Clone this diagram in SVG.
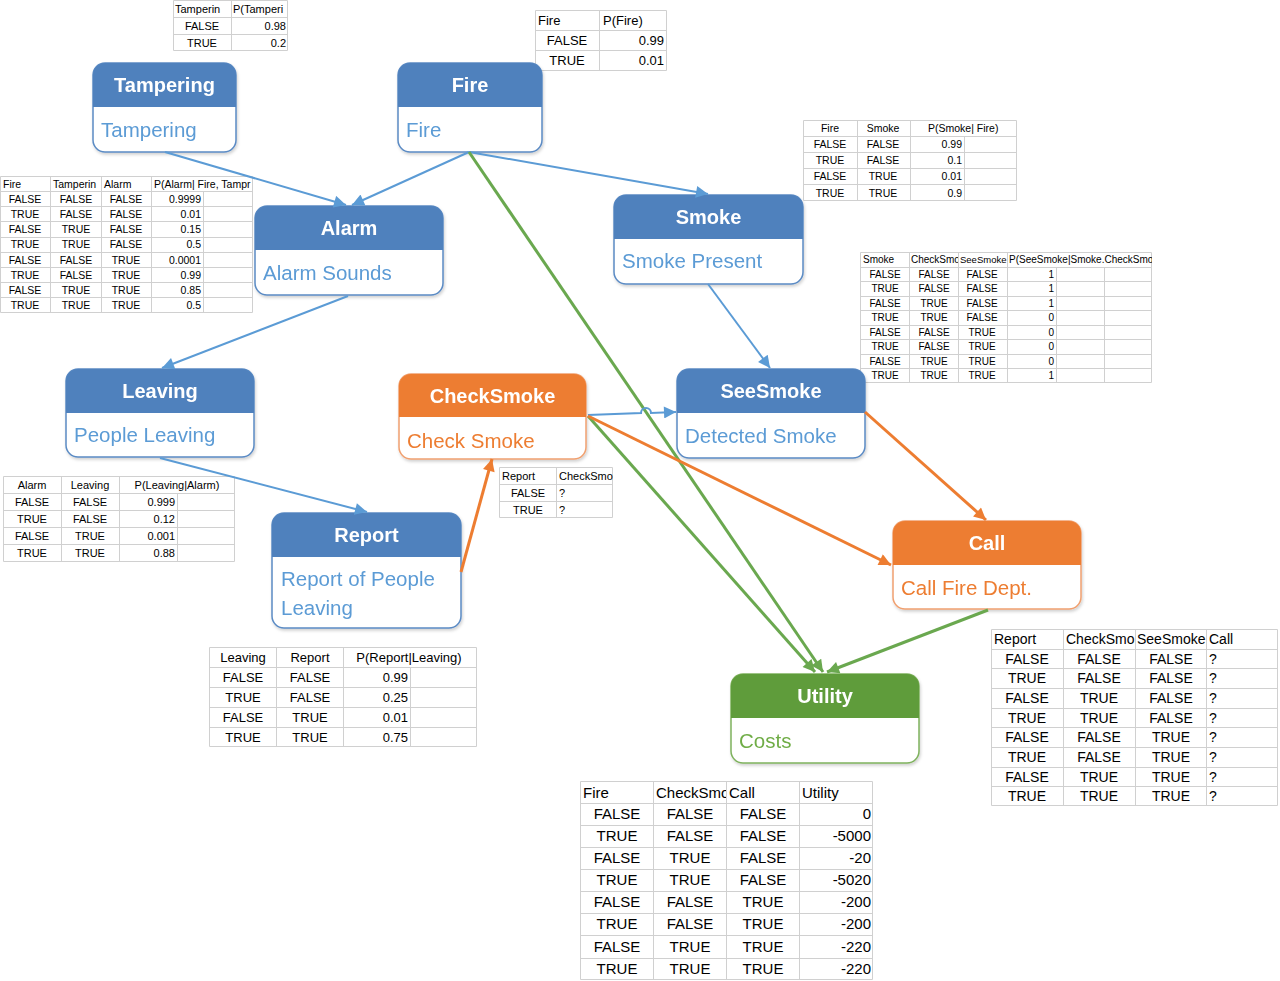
<svg xmlns="http://www.w3.org/2000/svg" width="1280" height="981" viewBox="0 0 1280 981">
<defs>
<style>
.t{font-family:"Liberation Sans",Arial,sans-serif;fill:#000}
.grid{fill:none;stroke:#d0d0d0;stroke-width:1}
.c{text-anchor:middle}
.r{text-anchor:end}
.title{font-family:"Liberation Sans",Arial,sans-serif;font-weight:bold;font-size:20px;fill:#fff;text-anchor:middle}
.sub{font-family:"Liberation Sans",Arial,sans-serif;font-size:20.5px}
.body{fill:#fff;stroke-width:1.5}
.blue .hd{fill:#4f81bd}.blue .body{stroke:#5b8bc4}.blue .sub{fill:#5b9bd5}
.orange .hd{fill:#ed7d31}.orange .body{stroke:#f0a070}.orange .sub{fill:#ed7d31}
.green .hd{fill:#5f9c3a}.green .body{stroke:#7fb25e}.green .sub{fill:#70ad47}
.ln{fill:none}
.lb{stroke:#5b9bd5;stroke-width:2}
.lo{stroke:#ed7d31;stroke-width:3}
.lg{stroke:#6aa84f;stroke-width:3}
</style>
<filter id="sh" x="-10%" y="-10%" width="130%" height="130%"><feDropShadow dx="1" dy="2" stdDeviation="1.5" flood-color="#000" flood-opacity="0.18"/></filter>
<marker id="ab" viewBox="0 0 10 10" refX="10" refY="5" markerUnits="userSpaceOnUse" markerWidth="14" markerHeight="12" orient="auto"><path d="M0,0 L10,5 L0,10 z" fill="#5b9bd5"/></marker>
<marker id="ao" viewBox="0 0 10 10" refX="10" refY="5" markerUnits="userSpaceOnUse" markerWidth="14" markerHeight="12" orient="auto"><path d="M0,0 L10,5 L0,10 z" fill="#ed7d31"/></marker>
<marker id="ag" viewBox="0 0 10 10" refX="10" refY="5" markerUnits="userSpaceOnUse" markerWidth="14" markerHeight="12" orient="auto"><path d="M0,0 L10,5 L0,10 z" fill="#6aa84f"/></marker>
<clipPath id="k1"><rect x="173" y="0" width="58" height="17"/></clipPath>
<clipPath id="k2"><rect x="231" y="0" width="57" height="17"/></clipPath>
<clipPath id="k3"><rect x="50" y="176" width="51" height="15"/></clipPath>
<clipPath id="k4"><rect x="151" y="176" width="102" height="15"/></clipPath>
<clipPath id="k5"><rect x="909" y="252" width="49" height="15"/></clipPath>
<clipPath id="k6"><rect x="958" y="252" width="49" height="15"/></clipPath>
<clipPath id="k7"><rect x="1007" y="252" width="145" height="15"/></clipPath>
<clipPath id="k8"><rect x="556" y="467" width="57" height="17"/></clipPath>
<clipPath id="k9"><rect x="1063" y="629" width="72" height="20"/></clipPath>
<clipPath id="k10"><rect x="1135" y="629" width="71" height="20"/></clipPath>
<clipPath id="k11"><rect x="653" y="781" width="73" height="22"/></clipPath>
</defs>
<rect width="1280" height="981" fill="#fff"/>

<!-- probability tables -->
<g id="tbl-tampering" class="t" font-size="11">
<path class="grid" d="M173.5,0.5h114v50h-114z M231.5,0.5v50 M173.5,17.5h114 M173.5,34.5h114"/>
<text x="175" y="13" clip-path="url(#k1)">Tamperin</text><text x="233" y="13" clip-path="url(#k2)">P(Tamperi</text>
<text class="c" x="202" y="30">FALSE</text><text class="r" x="286" y="30">0.98</text>
<text class="c" x="202" y="47">TRUE</text><text class="r" x="286" y="47">0.2</text>
</g>

<g id="tbl-fire" class="t" font-size="13">
<path class="grid" d="M535.5,10.5h131v60h-131z M599.5,10.5v60 M535.5,30.5h131 M535.5,50.5h131"/>
<text x="538" y="25">Fire</text><text x="603" y="25">P(Fire)</text>
<text class="c" x="567" y="45">FALSE</text><text class="r" x="664" y="45">0.99</text>
<text class="c" x="567" y="65">TRUE</text><text class="r" x="664" y="65">0.01</text>
</g>

<g id="tbl-alarm" class="t" font-size="10.5">
<path class="grid" d="M0.5,176.5h252v136h-252z M50.5,176.5v136 M101.5,176.5v136 M151.5,176.5v136 M203.5,191.5v121 M0.5,191.5h252 M0.5,206.5h252 M0.5,221.5h252 M0.5,237.5h252 M0.5,252.5h252 M0.5,267.5h252 M0.5,282.5h252 M0.5,297.5h252"/>
<text x="3" y="188">Fire</text><text x="53" y="188" clip-path="url(#k3)">Tamperin</text><text x="104" y="188">Alarm</text><text x="154" y="188" clip-path="url(#k4)">P(Alarm| Fire, Tampr</text>
<text class="c" x="25" y="203">FALSE</text><text class="c" x="76" y="203">FALSE</text><text class="c" x="126" y="203">FALSE</text><text class="r" x="201" y="203">0.9999</text>
<text class="c" x="25" y="218">TRUE</text><text class="c" x="76" y="218">FALSE</text><text class="c" x="126" y="218">FALSE</text><text class="r" x="201" y="218">0.01</text>
<text class="c" x="25" y="233">FALSE</text><text class="c" x="76" y="233">TRUE</text><text class="c" x="126" y="233">FALSE</text><text class="r" x="201" y="233">0.15</text>
<text class="c" x="25" y="248">TRUE</text><text class="c" x="76" y="248">TRUE</text><text class="c" x="126" y="248">FALSE</text><text class="r" x="201" y="248">0.5</text>
<text class="c" x="25" y="264">FALSE</text><text class="c" x="76" y="264">FALSE</text><text class="c" x="126" y="264">TRUE</text><text class="r" x="201" y="264">0.0001</text>
<text class="c" x="25" y="279">TRUE</text><text class="c" x="76" y="279">FALSE</text><text class="c" x="126" y="279">TRUE</text><text class="r" x="201" y="279">0.99</text>
<text class="c" x="25" y="294">FALSE</text><text class="c" x="76" y="294">TRUE</text><text class="c" x="126" y="294">TRUE</text><text class="r" x="201" y="294">0.85</text>
<text class="c" x="25" y="309">TRUE</text><text class="c" x="76" y="309">TRUE</text><text class="c" x="126" y="309">TRUE</text><text class="r" x="201" y="309">0.5</text>
</g>

<g id="tbl-smoke" class="t" font-size="10.5">
<path class="grid" d="M803.5,120.5h213v80h-213z M857.5,120.5v80 M910.5,120.5v80 M964.5,136.5v64 M803.5,136.5h213 M803.5,152.5h213 M803.5,168.5h213 M803.5,184.5h213"/>
<text class="c" x="830" y="132">Fire</text><text class="c" x="883" y="132">Smoke</text><text x="928" y="132">P(Smoke| Fire)</text>
<text class="c" x="830" y="148">FALSE</text><text class="c" x="883" y="148">FALSE</text><text class="r" x="962" y="148">0.99</text>
<text class="c" x="830" y="164">TRUE</text><text class="c" x="883" y="164">FALSE</text><text class="r" x="962" y="164">0.1</text>
<text class="c" x="830" y="180">FALSE</text><text class="c" x="883" y="180">TRUE</text><text class="r" x="962" y="180">0.01</text>
<text class="c" x="830" y="197">TRUE</text><text class="c" x="883" y="197">TRUE</text><text class="r" x="962" y="197">0.9</text>
</g>

<g id="tbl-seesmoke" class="t" font-size="10">
<path class="grid" d="M860.5,252.5h291v130h-291z M909.5,252.5v130 M958.5,252.5v130 M1007.5,252.5v130 M1056.5,267.5v115 M1104.5,267.5v115 M860.5,267.5h291 M860.5,281.5h291 M860.5,296.5h291 M860.5,310.5h291 M860.5,325.5h291 M860.5,339.5h291 M860.5,354.5h291 M860.5,368.5h291"/>
<text x="863" y="263">Smoke</text><text x="911" y="263" clip-path="url(#k5)">CheckSmo</text><text x="960" y="263" font-size="9.5" clip-path="url(#k6)">SeeSmoke</text><text x="1009" y="263" clip-path="url(#k7)">P(SeeSmoke|Smoke.CheckSmo</text>
<text class="c" x="885" y="278">FALSE</text><text class="c" x="934" y="278">FALSE</text><text class="c" x="982" y="278">FALSE</text><text class="r" x="1054" y="278">1</text>
<text class="c" x="885" y="292">TRUE</text><text class="c" x="934" y="292">FALSE</text><text class="c" x="982" y="292">FALSE</text><text class="r" x="1054" y="292">1</text>
<text class="c" x="885" y="307">FALSE</text><text class="c" x="934" y="307">TRUE</text><text class="c" x="982" y="307">FALSE</text><text class="r" x="1054" y="307">1</text>
<text class="c" x="885" y="321">TRUE</text><text class="c" x="934" y="321">TRUE</text><text class="c" x="982" y="321">FALSE</text><text class="r" x="1054" y="321">0</text>
<text class="c" x="885" y="336">FALSE</text><text class="c" x="934" y="336">FALSE</text><text class="c" x="982" y="336">TRUE</text><text class="r" x="1054" y="336">0</text>
<text class="c" x="885" y="350">TRUE</text><text class="c" x="934" y="350">FALSE</text><text class="c" x="982" y="350">TRUE</text><text class="r" x="1054" y="350">0</text>
<text class="c" x="885" y="365">FALSE</text><text class="c" x="934" y="365">TRUE</text><text class="c" x="982" y="365">TRUE</text><text class="r" x="1054" y="365">0</text>
<text class="c" x="885" y="379">TRUE</text><text class="c" x="934" y="379">TRUE</text><text class="c" x="982" y="379">TRUE</text><text class="r" x="1054" y="379">1</text>
</g>

<g id="tbl-leaving" class="t" font-size="11">
<path class="grid" d="M3.5,476.5h231v85h-231z M61.5,476.5v85 M119.5,476.5v85 M177.5,493.5v68 M3.5,493.5h231 M3.5,510.5h231 M3.5,527.5h231 M3.5,544.5h231"/>
<text class="c" x="32" y="489">Alarm</text><text class="c" x="90" y="489">Leaving</text><text class="c" x="177" y="489">P(Leaving|Alarm)</text>
<text class="c" x="32" y="506">FALSE</text><text class="c" x="90" y="506">FALSE</text><text class="r" x="175" y="506">0.999</text>
<text class="c" x="32" y="523">TRUE</text><text class="c" x="90" y="523">FALSE</text><text class="r" x="175" y="523">0.12</text>
<text class="c" x="32" y="540">FALSE</text><text class="c" x="90" y="540">TRUE</text><text class="r" x="175" y="540">0.001</text>
<text class="c" x="32" y="557">TRUE</text><text class="c" x="90" y="557">TRUE</text><text class="r" x="175" y="557">0.88</text>
</g>

<g id="tbl-checksmoke" class="t" font-size="11">
<path class="grid" d="M499.5,467.5h113v50h-113z M556.5,467.5v50 M499.5,484.5h113 M499.5,501.5h113"/>
<text x="502" y="480">Report</text><text x="559" y="480" clip-path="url(#k8)">CheckSmo</text>
<text class="c" x="528" y="497">FALSE</text><text x="559" y="497">?</text>
<text class="c" x="528" y="514">TRUE</text><text x="559" y="514">?</text>
</g>

<g id="tbl-report" class="t" font-size="13">
<path class="grid" d="M209.5,647.5h267v99h-267z M276.5,647.5v99 M343.5,647.5v99 M410.5,667.5v79 M209.5,667.5h267 M209.5,687.5h267 M209.5,707.5h267 M209.5,727.5h267"/>
<text class="c" x="243" y="662">Leaving</text><text class="c" x="310" y="662">Report</text><text class="c" x="409" y="662">P(Report|Leaving)</text>
<text class="c" x="243" y="682">FALSE</text><text class="c" x="310" y="682">FALSE</text><text class="r" x="408" y="682">0.99</text>
<text class="c" x="243" y="702">TRUE</text><text class="c" x="310" y="702">FALSE</text><text class="r" x="408" y="702">0.25</text>
<text class="c" x="243" y="722">FALSE</text><text class="c" x="310" y="722">TRUE</text><text class="r" x="408" y="722">0.01</text>
<text class="c" x="243" y="742">TRUE</text><text class="c" x="310" y="742">TRUE</text><text class="r" x="408" y="742">0.75</text>
</g>

<g id="tbl-call" class="t" font-size="14">
<path class="grid" d="M991.5,629.5h286v176h-286z M1063.5,629.5v176 M1135.5,629.5v176 M1206.5,629.5v176 M991.5,649.5h286 M991.5,668.5h286 M991.5,688.5h286 M991.5,708.5h286 M991.5,727.5h286 M991.5,747.5h286 M991.5,767.5h286 M991.5,786.5h286"/>
<text x="994" y="644">Report</text><text x="1066" y="644" clip-path="url(#k9)">CheckSmo</text><text x="1137" y="644" clip-path="url(#k10)">SeeSmoke</text><text x="1209" y="644">Call</text>
<text class="c" x="1027" y="664">FALSE</text><text class="c" x="1099" y="664">FALSE</text><text class="c" x="1171" y="664">FALSE</text><text x="1209" y="664">?</text>
<text class="c" x="1027" y="683">TRUE</text><text class="c" x="1099" y="683">FALSE</text><text class="c" x="1171" y="683">FALSE</text><text x="1209" y="683">?</text>
<text class="c" x="1027" y="703">FALSE</text><text class="c" x="1099" y="703">TRUE</text><text class="c" x="1171" y="703">FALSE</text><text x="1209" y="703">?</text>
<text class="c" x="1027" y="723">TRUE</text><text class="c" x="1099" y="723">TRUE</text><text class="c" x="1171" y="723">FALSE</text><text x="1209" y="723">?</text>
<text class="c" x="1027" y="742">FALSE</text><text class="c" x="1099" y="742">FALSE</text><text class="c" x="1171" y="742">TRUE</text><text x="1209" y="742">?</text>
<text class="c" x="1027" y="762">TRUE</text><text class="c" x="1099" y="762">FALSE</text><text class="c" x="1171" y="762">TRUE</text><text x="1209" y="762">?</text>
<text class="c" x="1027" y="782">FALSE</text><text class="c" x="1099" y="782">TRUE</text><text class="c" x="1171" y="782">TRUE</text><text x="1209" y="782">?</text>
<text class="c" x="1027" y="801">TRUE</text><text class="c" x="1099" y="801">TRUE</text><text class="c" x="1171" y="801">TRUE</text><text x="1209" y="801">?</text>
</g>

<g id="tbl-utility" class="t" font-size="15">
<path class="grid" d="M580.5,781.5h292v198h-292z M653.5,781.5v198 M726.5,781.5v198 M799.5,781.5v198 M580.5,803.5h292 M580.5,825.5h292 M580.5,847.5h292 M580.5,869.5h292 M580.5,891.5h292 M580.5,913.5h292 M580.5,935.5h292 M580.5,958.5h292"/>
<text x="583" y="798">Fire</text><text x="656" y="798" clip-path="url(#k11)">CheckSmo</text><text x="729" y="798">Call</text><text x="802" y="798">Utility</text>
<text class="c" x="617" y="819">FALSE</text><text class="c" x="690" y="819">FALSE</text><text class="c" x="763" y="819">FALSE</text><text class="r" x="871" y="819">0</text>
<text class="c" x="617" y="841">TRUE</text><text class="c" x="690" y="841">FALSE</text><text class="c" x="763" y="841">FALSE</text><text class="r" x="871" y="841">-5000</text>
<text class="c" x="617" y="863">FALSE</text><text class="c" x="690" y="863">TRUE</text><text class="c" x="763" y="863">FALSE</text><text class="r" x="871" y="863">-20</text>
<text class="c" x="617" y="885">TRUE</text><text class="c" x="690" y="885">TRUE</text><text class="c" x="763" y="885">FALSE</text><text class="r" x="871" y="885">-5020</text>
<text class="c" x="617" y="907">FALSE</text><text class="c" x="690" y="907">FALSE</text><text class="c" x="763" y="907">TRUE</text><text class="r" x="871" y="907">-200</text>
<text class="c" x="617" y="929">TRUE</text><text class="c" x="690" y="929">FALSE</text><text class="c" x="763" y="929">TRUE</text><text class="r" x="871" y="929">-200</text>
<text class="c" x="617" y="952">FALSE</text><text class="c" x="690" y="952">TRUE</text><text class="c" x="763" y="952">TRUE</text><text class="r" x="871" y="952">-220</text>
<text class="c" x="617" y="974">TRUE</text><text class="c" x="690" y="974">TRUE</text><text class="c" x="763" y="974">TRUE</text><text class="r" x="871" y="974">-220</text>
</g>

<!-- nodes: header band over a white rounded card -->
<g id="tampering" class="blue" filter="url(#sh)">
<rect class="body" x="93" y="63" width="143" height="89" rx="12"/>
<path class="hd" d="M93,107V75A12,12 0 0 1 105,63H224A12,12 0 0 1 236,75V107Z"/>
<text class="title" x="164.5" y="92">Tampering</text>
<text class="sub" x="101" y="137">Tampering</text>
</g>
<g id="fire" class="blue" filter="url(#sh)">
<rect class="body" x="398" y="63" width="144" height="89" rx="12"/>
<path class="hd" d="M398,107V75A12,12 0 0 1 410,63H530A12,12 0 0 1 542,75V107Z"/>
<text class="title" x="470" y="92">Fire</text>
<text class="sub" x="406" y="137">Fire</text>
</g>
<g id="alarm" class="blue" filter="url(#sh)">
<rect class="body" x="255" y="206" width="188" height="89" rx="12"/>
<path class="hd" d="M255,250V218A12,12 0 0 1 267,206H431A12,12 0 0 1 443,218V250Z"/>
<text class="title" x="349" y="235">Alarm</text>
<text class="sub" x="263" y="280">Alarm Sounds</text>
</g>
<g id="smoke" class="blue" filter="url(#sh)">
<rect class="body" x="614" y="195" width="189" height="89" rx="12"/>
<path class="hd" d="M614,239V207A12,12 0 0 1 626,195H791A12,12 0 0 1 803,207V239Z"/>
<text class="title" x="708.5" y="224">Smoke</text>
<text class="sub" x="622" y="268">Smoke Present</text>
</g>
<g id="leaving" class="blue" filter="url(#sh)">
<rect class="body" x="66" y="369" width="188" height="88" rx="12"/>
<path class="hd" d="M66,413V381A12,12 0 0 1 78,369H242A12,12 0 0 1 254,381V413Z"/>
<text class="title" x="160" y="398">Leaving</text>
<text class="sub" x="74" y="442">People Leaving</text>
</g>
<g id="checksmoke" class="orange" filter="url(#sh)">
<rect class="body" x="399" y="374" width="187" height="85" rx="12"/>
<path class="hd" d="M399,417V386A12,12 0 0 1 411,374H574A12,12 0 0 1 586,386V417Z"/>
<text class="title" x="492.5" y="403">CheckSmoke</text>
<text class="sub" x="407" y="448">Check Smoke</text>
</g>
<g id="seesmoke" class="blue" filter="url(#sh)">
<rect class="body" x="677" y="369" width="188" height="89" rx="12"/>
<path class="hd" d="M677,413V381A12,12 0 0 1 689,369H853A12,12 0 0 1 865,381V413Z"/>
<text class="title" x="771" y="398">SeeSmoke</text>
<text class="sub" x="685" y="443">Detected Smoke</text>
</g>
<g id="report" class="blue" filter="url(#sh)">
<rect class="body" x="272" y="513" width="189" height="115" rx="12"/>
<path class="hd" d="M272,557V525A12,12 0 0 1 284,513H449A12,12 0 0 1 461,525V557Z"/>
<text class="title" x="366.5" y="542">Report</text>
<text class="sub" x="281" y="586">Report of People</text>
<text class="sub" x="281" y="615">Leaving</text>
</g>
<g id="call" class="orange" filter="url(#sh)">
<rect class="body" x="893" y="521" width="188" height="88" rx="12"/>
<path class="hd" d="M893,565V533A12,12 0 0 1 905,521H1069A12,12 0 0 1 1081,533V565Z"/>
<text class="title" x="987" y="550">Call</text>
<text class="sub" x="901" y="595">Call Fire Dept.</text>
</g>
<g id="utility" class="green" filter="url(#sh)">
<rect class="body" x="731" y="674" width="188" height="89" rx="12"/>
<path class="hd" d="M731,718V686A12,12 0 0 1 743,674H907A12,12 0 0 1 919,686V718Z"/>
<text class="title" x="825" y="703">Utility</text>
<text class="sub" x="739" y="748">Costs</text>
</g>

<!-- connectors -->
<g id="connectors" class="ln">
<path class="ln lb" d="M165,152L346,205" marker-end="url(#ab)"/>
<path class="ln lb" d="M469,152L352,205" marker-end="url(#ab)"/>
<path class="ln lb" d="M469,152L708,194" marker-end="url(#ab)"/>
<path class="ln lb" d="M348,296L162,368" marker-end="url(#ab)"/>
<path class="ln lb" d="M160,458L367,512" marker-end="url(#ab)"/>
<path class="ln lb" d="M708,284L770,368" marker-end="url(#ab)"/>
<path class="ln lg" d="M469,152L823,672" marker-end="url(#ag)"/>
<path class="ln lg" d="M588,416L815,672" marker-end="url(#ag)"/>
<path class="ln lg" d="M988,610L827,672" marker-end="url(#ag)"/>
<path class="ln lb" d="M588,415L641,413A5,5 0 0 1 651,413L676,412" marker-end="url(#ab)"/>
<path class="ln lo" d="M461,572L492,459" marker-end="url(#ao)"/>
<path class="ln lo" d="M588,416L891,565" marker-end="url(#ao)"/>
<path class="ln lo" d="M865,412L986,520" marker-end="url(#ao)"/>
</g>
</svg>
